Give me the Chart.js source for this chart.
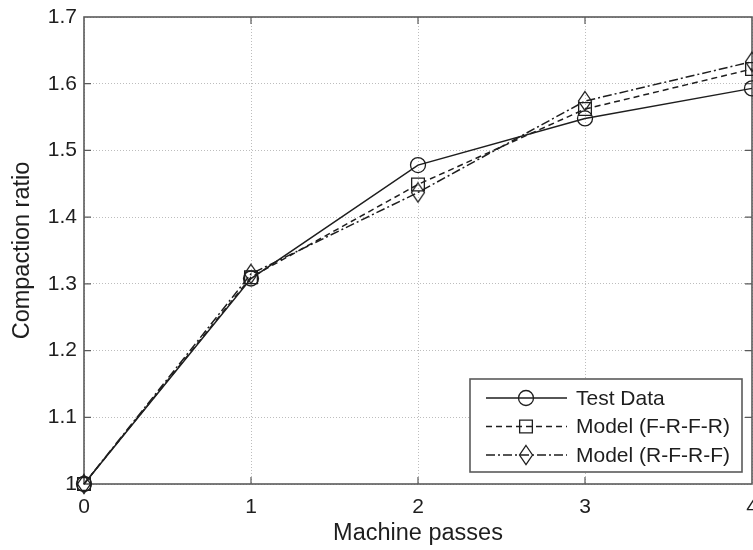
<!DOCTYPE html>
<html>
<head>
<meta charset="utf-8">
<script src="https://cdn.jsdelivr.net/npm/chart.js@4.4.0/dist/chart.umd.min.js"></script>
<style>
  html, body { margin: 0; padding: 0; background: #fff; overflow: hidden; }
  #chart { display: block; }
</style>
</head>
<body>
<canvas id="chart" width="753" height="550"></canvas>
<script>
/* ================= DATA ================= */
const passes = [0, 1, 2, 3, 4];
const testData = [1.0, 1.308, 1.478, 1.548, 1.593];
const modelFRFR = [1.0, 1.310, 1.449, 1.562, 1.622];
const modelRFRF = [1.0, 1.315, 1.437, 1.574, 1.633];
const seriesNames = ['Test Data', 'Model (F-R-F-R)', 'Model (R-F-R-F)'];
const yTickValues = [1.0, 1.1, 1.2, 1.3, 1.4, 1.5, 1.6, 1.7];
const xTitle = 'Machine passes';
const yTitle = 'Compaction ratio';

/* ================= STYLE ================= */
const FAMILY = '"Liberation Sans", Arial, sans-serif';
const FONT = { family: FAMILY, size: 21 };
const TITLE_FONT = { family: FAMILY, size: 23.5 };
const INK = '#1e1e1e';
const FRAME = '#5a5a5a';
const GRID = { color: '#bdbdbd', lineWidth: 1, drawTicks: false };
const NO_FILL = 'rgba(0,0,0,0)';

// MATLAB-like diamond, a bit taller than wide
function diamondMarker() {
    const c = document.createElement('canvas');
    c.width = 16; c.height = 22;
    const g = c.getContext('2d');
    g.strokeStyle = INK;
    g.lineWidth = 1.3;
    g.beginPath();
    g.moveTo(8, 1.5); g.lineTo(14.5, 11); g.lineTo(8, 20.5); g.lineTo(1.5, 11);
    g.closePath();
    g.stroke();
    return c;
}

function pairs(ys) {
    return passes.map((x, i) => ({ x, y: ys[i] }));
}

function series(label, ys, dash, style, radius) {
    return {
        label,
        data: pairs(ys),
        borderColor: INK,
        borderWidth: 1.5,
        borderDash: dash,
        pointStyle: style,
        pointRadius: radius,
        pointHoverRadius: radius,
        pointBorderColor: INK,
        pointBorderWidth: 1.3,
        pointBackgroundColor: NO_FILL,
        tension: 0,
        clip: false
    };
}

/* ================= PLUGINS ================= */
const axesFrame = {
    id: 'axesFrame',
    beforeDatasetsDraw(chart) {
        const { ctx, chartArea: a, scales } = chart;
        const tick = 7;
        ctx.save();
        ctx.strokeStyle = FRAME;
        ctx.lineWidth = 1.6;
        ctx.strokeRect(a.left, a.top, a.right - a.left, a.bottom - a.top);
        ctx.lineWidth = 1.2;
        ctx.beginPath();
        scales.y.ticks.forEach(t => {
            const py = scales.y.getPixelForValue(t.value);
            if (py <= a.top + 1 || py >= a.bottom - 1) return;
            ctx.moveTo(a.left, py); ctx.lineTo(a.left + tick, py);
            ctx.moveTo(a.right, py); ctx.lineTo(a.right - tick, py);
        });
        scales.x.ticks.forEach(t => {
            const px = scales.x.getPixelForValue(t.value);
            if (px <= a.left + 1 || px >= a.right - 1) return;
            ctx.moveTo(px, a.bottom); ctx.lineTo(px, a.bottom - tick);
            ctx.moveTo(px, a.top); ctx.lineTo(px, a.top + tick);
        });
        ctx.stroke();
        ctx.restore();
    }
};

const boxedLegend = {
    id: 'boxedLegend',
    afterDraw(chart) {
        const { ctx, chartArea: a } = chart;
        const w = 272, h = 93;
        const x0 = a.right - 10 - w;
        const y0 = a.bottom - 12 - h;
        ctx.save();
        ctx.fillStyle = '#fff';
        ctx.fillRect(x0, y0, w, h);
        ctx.strokeStyle = FRAME;
        ctx.lineWidth = 1.6;
        ctx.strokeRect(x0, y0, w, h);
        ctx.font = `${FONT.size}px ${FAMILY}`;
        ctx.textBaseline = 'middle';
        chart.data.datasets.forEach((ds, i) => {
            const y = y0 + 19 + i * 28.5;
            ctx.strokeStyle = ds.borderColor;
            ctx.lineWidth = ds.borderWidth;
            ctx.setLineDash(ds.borderDash || []);
            ctx.beginPath();
            ctx.moveTo(x0 + 16, y);
            ctx.lineTo(x0 + 97, y);
            ctx.stroke();
            ctx.setLineDash([]);
            ctx.fillStyle = NO_FILL;
            ctx.lineWidth = ds.pointBorderWidth;
            Chart.helpers.drawPoint(ctx, {
                pointStyle: ds.pointStyle,
                radius: ds.pointRadius,
                borderWidth: ds.pointBorderWidth,
                rotation: 0
            }, x0 + 56, y);
            ctx.fillStyle = INK;
            ctx.fillText(ds.label, x0 + 106, y + 1);
        });
        ctx.restore();
    }
};

/* ================= CHART ================= */
new Chart(document.getElementById('chart'), {
    type: 'line',
    data: {
        datasets: [
            series(seriesNames[0], testData, [], 'circle', 7.5),
            series(seriesNames[1], modelFRFR, [6, 4], 'rect', 9),
            series(seriesNames[2], modelRFRF, [9, 3, 2, 3], diamondMarker(), 8)
        ]
    },
    options: {
        responsive: false,
        animation: false,
        events: [],
        layout: { autoPadding: false, padding: { left: 0, right: 1, top: 17, bottom: 0 } },
        plugins: { legend: { display: false }, tooltip: { enabled: false } },
        scales: {
            x: {
                type: 'linear',
                min: passes[0],
                max: passes[passes.length - 1],
                afterFit(scale) { scale.height = 66; scale.paddingLeft = 0; scale.paddingRight = 0; },
                afterBuildTicks(scale) { scale.ticks = passes.map(v => ({ value: v })); },
                border: { display: false, dash: [1, 2] },
                grid: GRID,
                ticks: { color: INK, font: FONT, padding: 11, maxRotation: 0,
                    callback: v => String(v) },
                title: { display: true, text: xTitle, color: INK, font: TITLE_FONT,
                    padding: { top: 0, bottom: 2.4 } }
            },
            y: {
                min: yTickValues[0],
                max: yTickValues[yTickValues.length - 1],
                afterFit(scale) { scale.width = 84; scale.paddingTop = 0; scale.paddingBottom = 0; },
                afterBuildTicks(scale) { scale.ticks = yTickValues.map(v => ({ value: v })); },
                border: { display: false, dash: [1, 2] },
                grid: GRID,
                ticks: { color: INK, font: FONT, padding: 7,
                    callback: v => (Math.abs(v - 1) < 1e-9 ? '1' : v.toFixed(1)) },
                title: { display: true, text: yTitle, color: INK, font: TITLE_FONT,
                    padding: { top: 8, bottom: 0 } }
            }
        }
    },
    plugins: [axesFrame, boxedLegend]
});
</script>
</body>
</html>
